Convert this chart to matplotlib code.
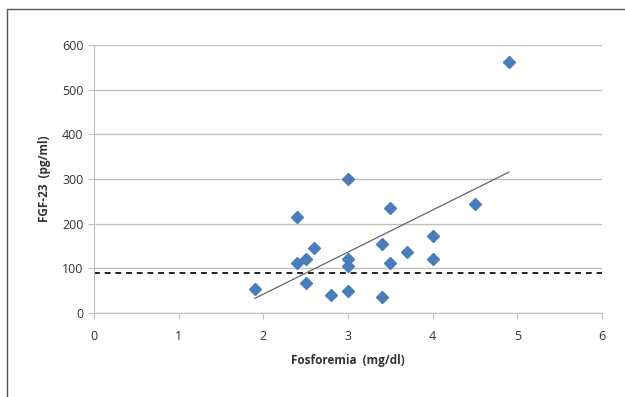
import numpy as np
import matplotlib.pyplot as plt
from matplotlib.patches import Rectangle

# Fosforemia (mg/dl) vs FGF-23 (pg/ml)
fosforemia = [1.9, 2.4, 2.4, 2.5, 2.5, 2.6, 2.8, 3.0, 3.0, 3.0, 3.0,
              3.4, 3.4, 3.5, 3.5, 3.7, 4.0, 4.0, 4.5, 4.9]
fgf23 = [53, 215, 113, 121, 68, 145, 40, 299, 121, 105, 50,
         154, 36, 236, 112, 136, 173, 121, 245, 561]
cutoff = 90

plt.rcParams['font.family'] = ['Open Sans', 'DejaVu Sans']

fig = plt.figure(figsize=(6.25, 3.97), dpi=100)
ax = fig.add_axes([0.1504, 0.2116, 0.8128, 0.675])

# outer chart frame
fig.patches.append(Rectangle((7 / 625, -0.05), 1.1, 1 - 9 / 397 + 0.05,
                             transform=fig.transFigure, fill=False,
                             edgecolor='#555555', linewidth=1.0))

ax.set_xlim(0, 6)
ax.set_ylim(0, 600)
ax.set_xticks(range(0, 7))
ax.set_yticks(range(0, 601, 100))
ax.grid(axis='y', color='#c0c0c0', linewidth=1)
ax.set_axisbelow(True)

for s in ['top', 'right']:
    ax.spines[s].set_visible(False)
for s in ['left', 'bottom']:
    ax.spines[s].set_color('#bdbdbd')
ax.tick_params(colors='#bdbdbd', labelcolor='#333333', labelsize=9, length=4)
ax.tick_params(axis='x', pad=8)

# cutoff line
ax.axhline(cutoff, color='#222222', linestyle=(0, (3, 2.5)), linewidth=1.4)

# linear trend line
x = np.array(fosforemia)
slope, intercept = np.polyfit(x, fgf23, 1)
xs = np.array([x.min(), x.max()])
ax.plot(xs, slope * xs + intercept, color='#666666', linewidth=0.9)

ax.plot(fosforemia, fgf23, linestyle='none', marker='D', markersize=6.3,
        color='#4a7ebb', markeredgecolor='#4a7ebb', zorder=3)

ax.set_xlabel('Fosforemia  (mg/dl)', fontsize=8.5, fontweight='bold',
              color='#333333', labelpad=8)
ax.set_ylabel('FGF-23  (pg/ml)', fontsize=8.5, fontweight='bold',
              color='#333333', labelpad=8)

fig.savefig('out.png', dpi=100)
